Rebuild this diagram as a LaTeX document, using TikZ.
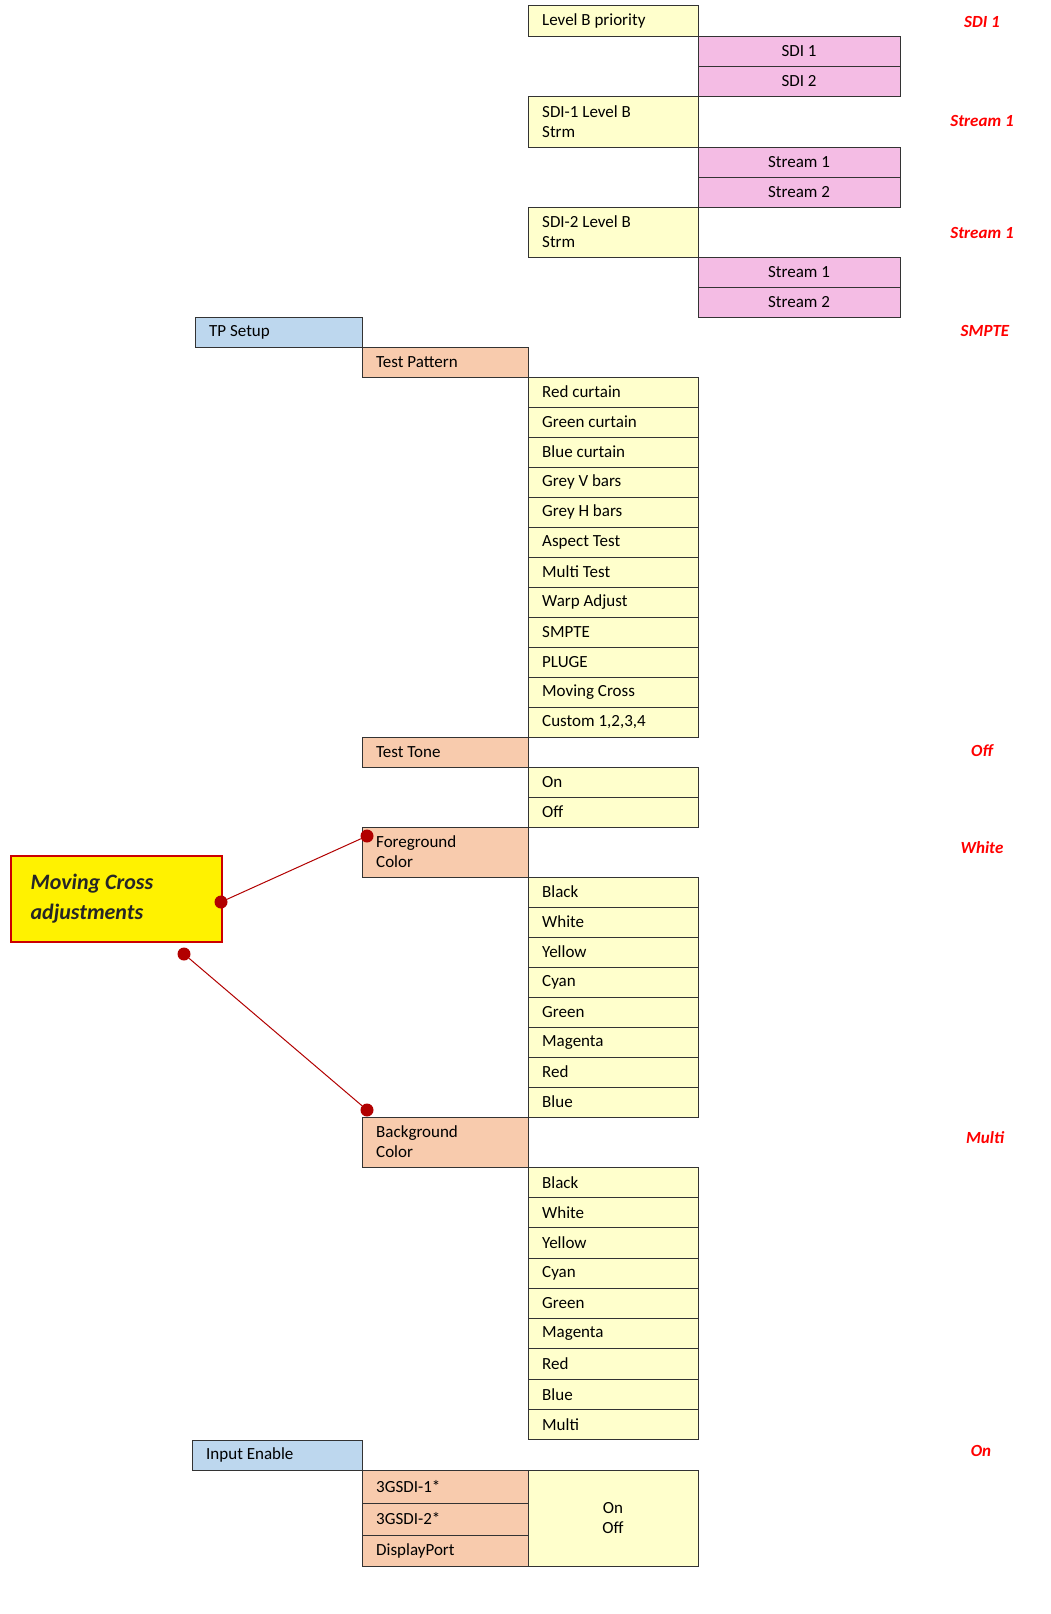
\documentclass[tikz,border=0pt]{standalone}
\usepackage{fontspec}
\setmainfont{Carlito}
\definecolor{lblue}{HTML}{BDD7EE}
\definecolor{lorange}{HTML}{F8CBAD}
\definecolor{lpink}{HTML}{F4BCE4}
\definecolor{lyel}{HTML}{FFFFCC}
\begin{document}
\begin{tikzpicture}[x=1pt,y=-1pt,font=\fontsize{17}{20}\selectfont,
 cell/.style={draw=black!80,line width=0.8pt,anchor=north west,inner sep=0pt,outer sep=0pt},
 yel/.style={cell,fill=lyel},
 pnk/.style={cell,fill=lpink},
 org/.style={cell,fill=lorange},
 blu/.style={cell,fill=lblue},
 lab/.style={text=red,font=\fontsize{17}{20}\selectfont\bfseries\itshape},
 dot/.style={circle,fill=red!70!black,inner sep=0pt,minimum size=13pt},
 lnk/.style={red!70!black,line width=1pt}]
\newcommand\bx[7]{\node[#1,minimum width=#4pt,minimum height=#5pt] (#6) at ({#2},{#3}) {};
 \node[anchor=west,align=left,inner sep=0pt] at ([xshift=14pt]#6.west) {#7};}
\newcommand\bc[7]{\node[#1,minimum width=#4pt,minimum height=#5pt] (#6) at ({#2},{#3}) {};
 \node[align=center,inner sep=0pt] at (#6.center) {#7};}
\useasboundingbox (0,0) rectangle (1051,1614);
\fill[white] (0,0) rectangle (1051,1614);
% top
\bx{yel}{528}{5}{170}{31}{lbp}{Level B priority}
\bc{pnk}{698}{36}{202}{30}{s1}{SDI 1}
\bc{pnk}{698}{66}{202}{30}{s2}{SDI 2}
\bx{yel}{528}{96}{170}{51}{l1}{SDI-1 Level B\\Strm}
\bc{pnk}{698}{147}{202}{30}{st11}{Stream 1}
\bc{pnk}{698}{177}{202}{30}{st12}{Stream 2}
\bx{yel}{528}{207}{170}{50}{l2}{SDI-2 Level B\\Strm}
\bc{pnk}{698}{257}{202}{30}{st21}{Stream 1}
\bc{pnk}{698}{287}{202}{30}{st22}{Stream 2}
\bx{blu}{195}{317}{167}{30}{tps}{TP Setup}
\bx{org}{362}{347}{166}{30}{tpat}{Test Pattern}
\foreach \t [count=\i] in {Red curtain,Green curtain,Blue curtain,Grey V bars,Grey H bars,Aspect Test,Multi Test,Warp Adjust,SMPTE,PLUGE,Moving Cross,{Custom 1,2,3,4}}
 {\bx{yel}{528}{377+(\i-1)*30}{170}{30}{tp\i}{\t}}
\bx{org}{362}{737}{166}{30}{tt}{Test Tone}
\bx{yel}{528}{767}{170}{30}{tton}{On}
\bx{yel}{528}{797}{170}{30}{ttoff}{Off}
\bx{org}{362}{827}{166}{50}{fg}{Foreground\\Color}
\foreach \t [count=\i] in {Black,White,Yellow,Cyan,Green,Magenta,Red,Blue}
 {\bx{yel}{528}{877+(\i-1)*30}{170}{30}{fg\i}{\t}}
\bx{org}{362}{1117}{166}{50}{bg}{Background\\Color}
\foreach \t [count=\i] in {Black,White,Yellow,Cyan,Green,Magenta,Red,Blue,Multi}
 {\bx{yel}{528}{1167+(\i-1)*30.3}{170}{30.3}{bg\i}{\t}}
\bx{blu}{192}{1440}{170}{30}{ie}{Input Enable}
\bx{org}{362}{1470}{166}{33}{g1}{3GSDI-1*}
\bx{org}{362}{1503}{166}{32}{g2}{3GSDI-2*}
\bx{org}{362}{1535}{166}{31}{dp}{DisplayPort}
\bc{yel}{528}{1470}{170}{96}{onoff}{On\\Off}
% labels
\node[lab] (r1) at (982,22) {SDI 1};
\node[lab] (r2) at (982,121) {Stream 1};
\node[lab] (r3) at (982,233) {Stream 1};
\node[lab] (r4) at (985,331) {SMPTE};
\node[lab] (r5) at (982,751) {Off};
\node[lab] (r6) at (982,848) {White};
\node[lab] (r7) at (985,1138) {Multi};
\node[lab] (r8) at (981,1451) {On};
% callout
\node[draw=red!80!black,line width=1.5pt,fill=yellow,anchor=north west,minimum width=211pt,minimum height=86pt,inner sep=0pt] (mc) at (10,855) {};
\node[anchor=west,align=left,font=\fontsize{22}{30}\selectfont\bfseries\itshape,text=black!85] at ([xshift=17pt]mc.west) {Moving Cross\\adjustments};
\node[dot] (d1) at (221,902) {};
\node[dot] (d2) at (367,836) {};
\node[dot] (d3) at (184,954) {};
\node[dot] (d4) at (367,1110) {};
\draw[lnk] (d1) -- (d2);
\draw[lnk] (d3) -- (d4);
\end{tikzpicture}
\end{document}
